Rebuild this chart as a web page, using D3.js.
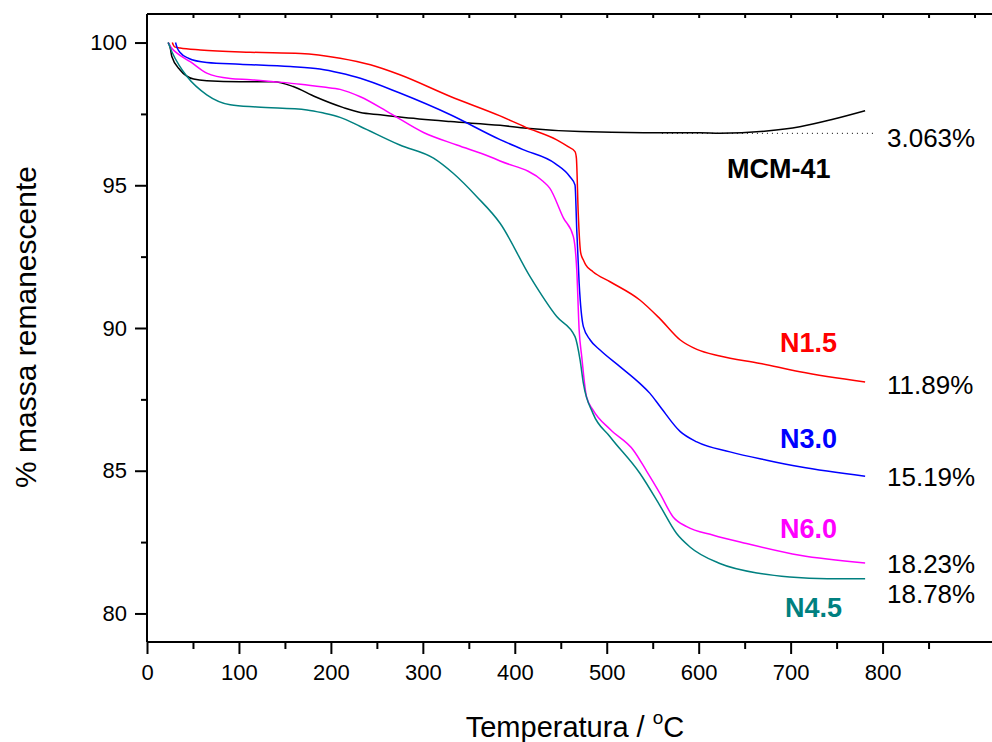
<!DOCTYPE html>
<html>
<head>
<meta charset="utf-8">
<script src="https://cdn.jsdelivr.net/npm/d3@7"></script>
<style>
  body { margin: 0; background: #fff; }
  text { font-family: "Liberation Sans", Arial, sans-serif; }
</style>
</head>
<body>
<script>
// TGA curves, [temperature °C, % mass]
const mcm41 = [[23,100],[25,99.86],[27,99.51],[36,99.04],[50.7,98.72],[65,98.66],[101,98.63],[137.6,98.63],[159,98.46],[183,98.1],[213.7,97.72],[232,97.55],[253.6,97.47],[275,97.39],[330,97.23],[384,97.1],[413,97.0],[471,96.88],[540,96.84],[601,96.84],[623,96.82],[674,96.9],[710,97.05],[746,97.31],[781,97.61]];
const n15 = [[27.5,100],[30,99.85],[36,99.81],[58,99.74],[112,99.66],[167,99.62],[210,99.45],[243,99.22],[275,98.87],[330,98.11],[384,97.43],[412,97.03],[445.6,96.59],[458,96.35],[465.5,96.18],[467,95.95],[469,94.03],[471.7,92.63],[474.6,92.38],[477,92.22],[485,91.97],[503.6,91.62],[536,90.98],[558,90.32],[580,89.58],[598,89.25],[623,89.02],[667,88.76],[710,88.47],[781,88.11]];
const n30 = [[31,100],[33,99.8],[36,99.65],[45,99.45],[65,99.3],[101,99.24],[156,99.16],[188,99.07],[210,98.93],[232,98.75],[275,98.23],[330,97.47],[384,96.6],[409,96.25],[444,95.76],[460,95.3],[465.5,95.01],[467.4,93.43],[470,91.57],[474.6,90.05],[482,89.58],[492.7,89.23],[514.7,88.64],[536,88.06],[547,87.71],[558,87.25],[580,86.37],[598,86.01],[634,85.66],[674,85.37],[710,85.14],[781,84.81]];
const n60 = [[23,100],[27,99.8],[32.6,99.63],[47,99.33],[65,98.93],[90.5,98.74],[112.5,98.7],[137.6,98.63],[167,98.54],[192,98.44],[210,98.36],[232,98.1],[264,97.53],[300.7,96.85],[337,96.41],[373,96.0],[384,95.85],[431,95.13],[438,94.9],[453,93.85],[463.7,93.2],[467.4,92.03],[470,89.93],[472.8,89.0],[478,87.59],[485,87.13],[503.6,86.45],[529,85.72],[543.5,84.98],[558,84.2],[572,83.39],[587,83.04],[616,82.74],[652,82.45],[710,82.04],[781,81.77]];
const n45 = [[23,100],[27,99.68],[35,99.2],[43.5,98.81],[65,98.17],[90.5,97.82],[119.6,97.74],[174,97.64],[192,97.53],[210,97.38],[232,97.06],[275,96.41],[311.6,95.95],[333,95.42],[358.7,94.6],[384,93.67],[416.6,91.8],[445.6,90.4],[465.5,89.7],[471,88.88],[474.6,88.06],[485,87.01],[503.6,86.19],[536,84.91],[558,83.77],[576,82.8],[590.5,82.33],[623,81.75],[667,81.4],[699,81.28],[740,81.22],[781,81.22]];

const seriesNames = ["MCM-41", "N1.5", "N3.0", "N6.0", "N4.5"];
const seriesColors = ["#000000", "#ff0000", "#0000ff", "#ff00ff", "#008080"];
const seriesData = [mcm41, n15, n30, n60, n45];
const lossLabels = ["3.063%", "11.89%", "15.19%", "18.23%", "18.78%"];
const mcmResidue = 96.82;

const xTicks = [0, 100, 200, 300, 400, 500, 600, 700, 800];
const yTicks = [80, 85, 90, 95, 100];

const width = 992, height = 742;
const plotLeft = 147, plotTop = 14, plotBottom = 642;

const svg = d3.select('body').append('svg')
  .attr('width', width)
  .attr('height', height);

const x = d3.scaleLinear().domain([0, 919]).range([plotLeft, width]);
const y = d3.scaleLinear().domain([79, 101]).range([plotBottom, plotTop]);

const line = d3.line()
  .x(d => x(d[0]))
  .y(d => y(d[1]))
  .curve(d3.curveMonotoneX);

// top frame line
svg.append('line').attr('x1', plotLeft).attr('x2', width).attr('y1', plotTop).attr('y2', plotTop)
  .attr('stroke', '#000').attr('stroke-width', 2);

// bottom axis
const xAxis = svg.append('g').attr('transform', `translate(0,${plotBottom})`)
  .call(d3.axisBottom(x).tickValues(xTicks).tickSize(12).tickPadding(10).tickFormat(d3.format('d')));
xAxis.select('.domain').attr('d', `M${plotLeft},0H${width}`);
svg.append('g').attr('transform', `translate(0,${plotBottom})`)
  .call(d3.axisBottom(x).tickValues(d3.range(50, 950, 100)).tickSize(7).tickFormat(''))
  .select('.domain').remove();

// top minor ticks pointing in
svg.append('g').attr('transform', `translate(0,${plotTop})`)
  .call(d3.axisBottom(x).tickValues(d3.range(50, 950, 50)).tickSize(4).tickFormat(''))
  .select('.domain').remove();

// left axis
const yAxis = svg.append('g').attr('transform', `translate(${plotLeft},0)`)
  .call(d3.axisLeft(y).tickValues(yTicks).tickSize(12).tickPadding(8).tickFormat(d3.format('d')));
yAxis.select('.domain').attr('d', `M0,${plotTop}V${plotBottom}`);
svg.append('g').attr('transform', `translate(${plotLeft},0)`)
  .call(d3.axisLeft(y).tickValues([82.5, 87.5, 92.5, 97.5]).tickSize(6).tickFormat(''))
  .select('.domain').remove();

svg.selectAll('.domain').attr('stroke-width', 2);
svg.selectAll('.tick line').attr('stroke-width', 2);
svg.selectAll('.tick text').attr('font-size', 22).attr('fill', '#000')
  .style('font-family', '"Liberation Sans", Arial, sans-serif');

// curves
svg.append('g').selectAll('path')
  .data(seriesData)
  .enter().append('path')
  .attr('d', line)
  .attr('fill', 'none')
  .attr('stroke', (d, i) => seriesColors[i])
  .attr('stroke-width', 1.5);

// residue dotted line of MCM-41
svg.append('line')
  .attr('x1', x(560)).attr('x2', x(790))
  .attr('y1', y(mcmResidue)).attr('y2', y(mcmResidue))
  .attr('stroke', '#000').attr('stroke-width', 1).attr('stroke-dasharray', '1,4');

// series names
const namePos = [[727, 178], [780, 352], [780, 448], [780, 538], [785, 617]];
svg.append('g').selectAll('text')
  .data(seriesNames)
  .enter().append('text')
  .attr('x', (d, i) => namePos[i][0])
  .attr('y', (d, i) => namePos[i][1])
  .attr('font-size', 27).attr('font-weight', 'bold')
  .attr('fill', (d, i) => seriesColors[i])
  .text(d => d);

// mass loss labels
const lossY = [147, 394, 486, 573, 603];
svg.append('g').selectAll('text')
  .data(lossLabels)
  .enter().append('text')
  .attr('x', 887)
  .attr('y', (d, i) => lossY[i])
  .attr('font-size', 26)
  .attr('fill', '#000')
  .text(d => d);

// axis titles
svg.append('text')
  .attr('transform', 'translate(36,327) rotate(-90)')
  .attr('text-anchor', 'middle')
  .attr('font-size', 30)
  .text('% massa remanescente');

const xt = svg.append('text')
  .attr('x', 575).attr('y', 737)
  .attr('text-anchor', 'middle')
  .attr('font-size', 29);
xt.append('tspan').text('Temperatura / ');
xt.append('tspan').attr('font-size', 19).attr('dy', -13).text('o');
xt.append('tspan').attr('dy', 13).text('C');
</script>
</body>
</html>
